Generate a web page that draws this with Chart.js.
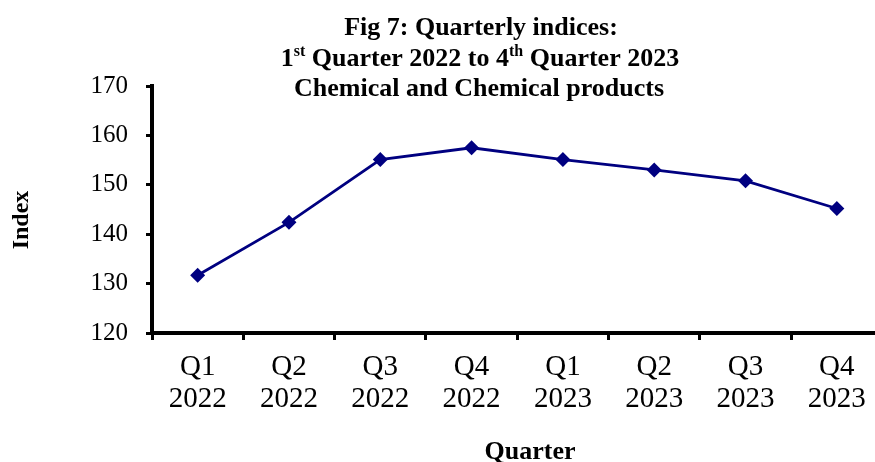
<!DOCTYPE html>
<html>
<head>
<meta charset="utf-8">
<script src="https://cdn.jsdelivr.net/npm/chart.js@4"></script>
<style>
  html, body { margin: 0; padding: 0; background: #fff; overflow: hidden; }
  #wrap { width: 875px; height: 462px; overflow: hidden; }
</style>
</head>
<body>
<div id="wrap">
  <canvas id="indexChart" width="890" height="462"></canvas>
</div>
<script>
// Data
const quarters = [['Q1', '2022'], ['Q2', '2022'], ['Q3', '2022'], ['Q4', '2022'],
                  ['Q1', '2023'], ['Q2', '2023'], ['Q3', '2023'], ['Q4', '2023']];
const indexValues = [131.7, 142.4, 155.1, 157.5, 155.1, 153.0, 150.8, 145.2];
const yTicks = [120, 130, 140, 150, 160, 170];

const SERIF = "'Liberation Serif', 'Times New Roman', serif";
const NAVY = '#000080';

// Draw a line of text made of normal + superscript pieces, centred on cx
function drawRichLine(ctx, parts, cx, y, size) {
    const measure = p => {
        ctx.font = `bold ${p.sup ? Math.round(size * 0.62) : size}px ${SERIF}`;
        return ctx.measureText(p.t).width;
    };
    const total = parts.reduce((w, p) => w + measure(p), 0);
    let x = cx - total / 2;
    parts.forEach(p => {
        const w = measure(p);
        ctx.fillText(p.t, x, p.sup ? y - size * 0.38 : y);
        x += w;
    });
}

const textPlugin = {
    id: 'textPlugin',
    afterDraw(chart) {
        const ctx = chart.ctx;
        ctx.save();
        ctx.fillStyle = '#000';
        ctx.textAlign = 'left';
        ctx.textBaseline = 'alphabetic';

        // Title, three lines
        const size = 26;
        drawRichLine(ctx, [{ t: 'Fig 7: Quarterly indices:' }], 481, 35, size);
        drawRichLine(ctx, [
            { t: '1' }, { t: 'st', sup: true }, { t: ' Quarter 2022 to 4' },
            { t: 'th', sup: true }, { t: ' Quarter 2023' }
        ], 480, 66, size);
        drawRichLine(ctx, [{ t: 'Chemical and Chemical products' }], 479, 96, size);

        // Axis titles
        ctx.textAlign = 'center';
        ctx.textBaseline = 'middle';
        ctx.font = `bold 26px ${SERIF}`;
        ctx.fillText('Quarter', 530, 452);

        ctx.font = `bold 24px ${SERIF}`;
        ctx.translate(22, 220);
        ctx.rotate(-Math.PI / 2);
        ctx.fillText('Index', 0, 0);
        ctx.restore();
    }
};

new Chart(document.getElementById('indexChart'), {
    type: 'line',
    data: {
        labels: quarters,
        datasets: [{
            data: indexValues,
            borderColor: NAVY,
            backgroundColor: NAVY,
            borderWidth: 2.8,
            pointStyle: 'rectRot',
            pointRadius: 7.5,
            pointBorderWidth: 0,
            tension: 0
        }]
    },
    options: {
        responsive: false,
        animation: false,
        layout: { padding: { top: 86, right: 4, bottom: 0, left: 0 } },
        plugins: {
            legend: { display: false },
            tooltip: { enabled: false },
            title: { display: false }
        },
        scales: {
            x: {
                type: 'category',
                offset: true,
                grid: {
                    offset: true,
                    drawOnChartArea: false,
                    tickLength: 7,
                    tickWidth: 3,
                    tickColor: '#000'
                },
                border: { color: '#000', width: 4 },
                ticks: {
                    color: '#000',
                    font: { family: SERIF, size: 29, lineHeight: 1.08 },
                    padding: 12,
                    maxRotation: 0,
                    autoSkip: false
                },
                afterFit(scale) { scale.height = 129; }
            },
            y: {
                min: 120,
                max: 170,
                afterBuildTicks(scale) { scale.ticks = yTicks.map(v => ({ value: v })); },
                grid: {
                    drawOnChartArea: false,
                    tickLength: 6,
                    tickWidth: 3,
                    tickColor: '#000'
                },
                border: { color: '#000', width: 4 },
                ticks: {
                    color: '#000',
                    font: { family: SERIF, size: 25 },
                    padding: 18
                },
                afterFit(scale) { scale.width = 152; }
            }
        }
    },
    plugins: [textPlugin]
});
</script>
</body>
</html>
